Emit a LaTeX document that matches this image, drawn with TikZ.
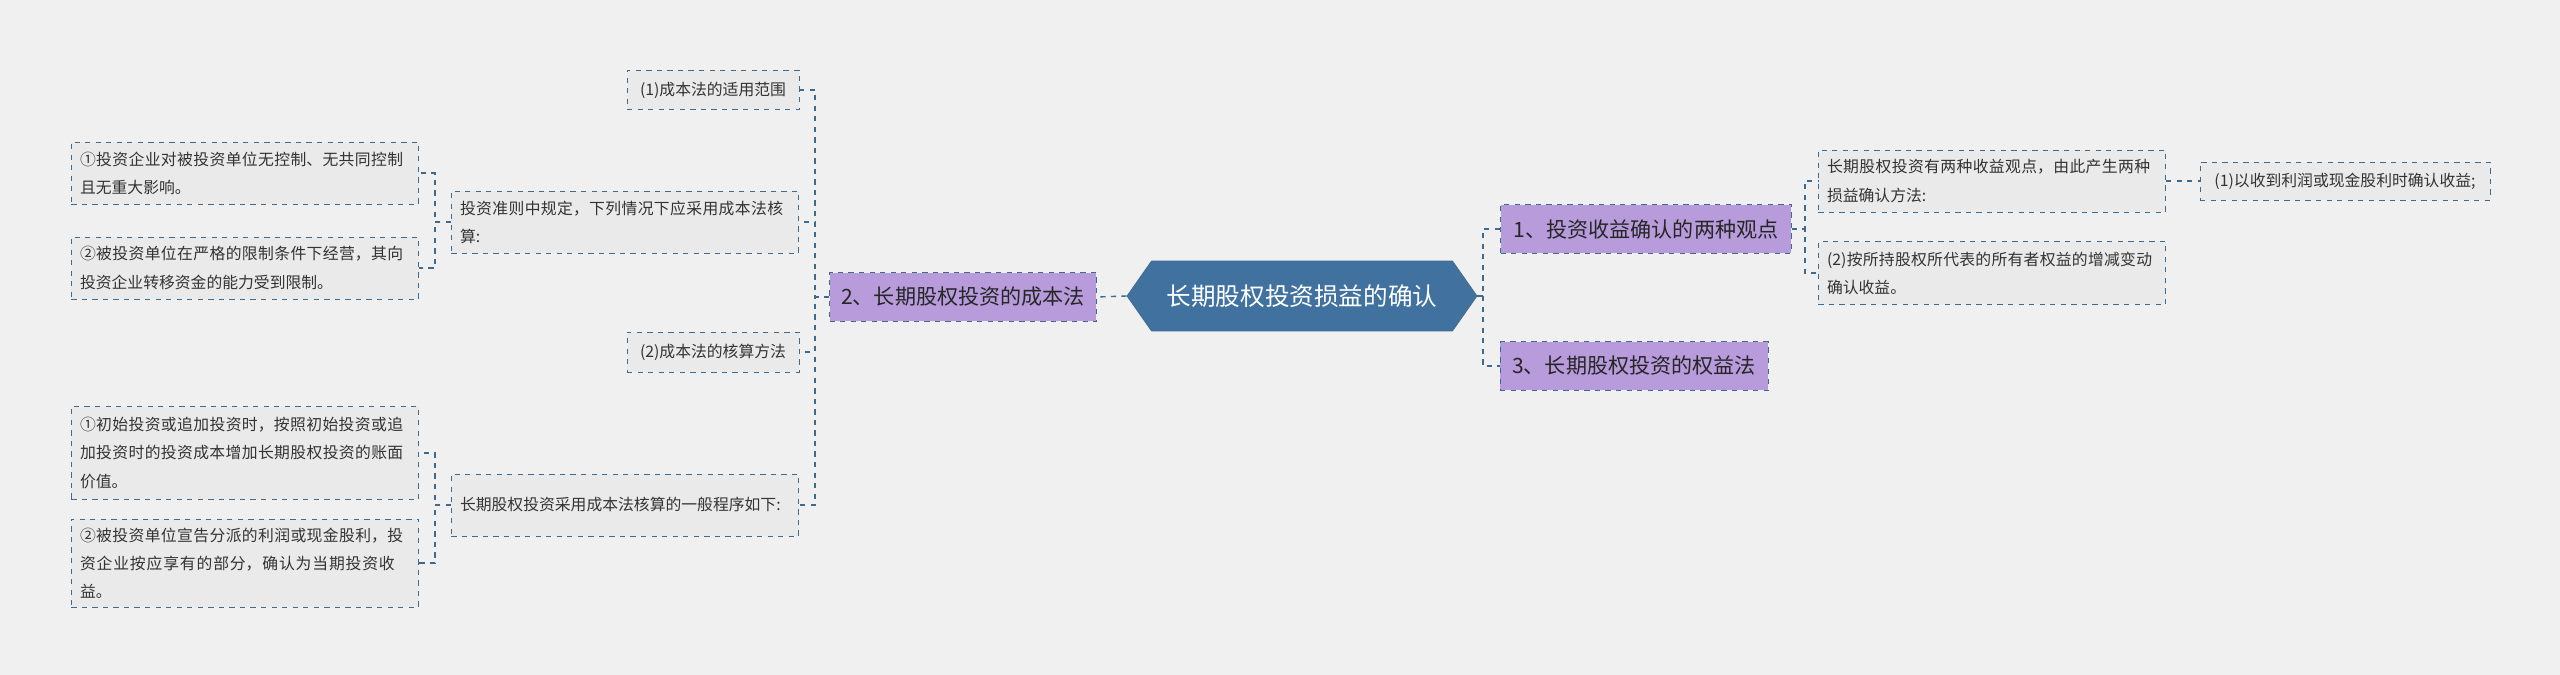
\documentclass[tikz,border=0pt]{standalone}
\usepackage{fontspec}
\setmainfont{Noto Sans CJK SC}
\XeTeXlinebreaklocale "zh"
\XeTeXlinebreakskip=0pt plus 1pt
\usetikzlibrary{shapes.symbols}
\definecolor{bgc}{HTML}{F0F0F0}
\definecolor{rootc}{HTML}{41729F}
\definecolor{linec}{HTML}{3E6A8E}
\definecolor{purp}{HTML}{B79BDB}
\definecolor{leafc}{HTML}{EAEAEA}
\tikzset{
  rootbox/.style={signal, signal to=east and west, signal pointer angle=110, fill=rootc, draw=linec,
    text=white, font=\fontsize{14}{16}\selectfont, minimum width=7cm, minimum height=1.4cm, inner xsep=2pt},
  topicbox/.style={fill=purp, draw=linec, dashed, font=\fontsize{12}{14}\selectfont, text=black!85,
    minimum height=0.98cm, inner xsep=6pt},
  leafbox/.style={fill=leafc, draw=linec, dashed, font=\fontsize{9}{16}\selectfont, text=black!80,
    align=left, inner sep=5pt},
  link/.style={draw=linec, dashed, thick},
}
\begin{document}
\begin{tikzpicture}[x=0.02cm,y=-0.02cm]
\fill[bgc] (0,0) rectangle (2560,675);
\useasboundingbox (0,0) rectangle (2560,675);
% root and main topics
\node[rootbox] (root) at (1302,296) {长期股权投资损益的确认};
\node[topicbox, minimum width=5.34cm] (cost) at (963,297) {2、长期股权投资的成本法};
\node[topicbox, minimum width=5.82cm] (views) at (1646,229) {1、投资收益确认的两种观点};
\node[topicbox, minimum width=5.36cm] (equity) at (1634,366) {3、长期股权投资的权益法};
% left branch
\node[leafbox, minimum width=3.44cm, minimum height=0.78cm] (scope) at (713,90) {(1)成本法的适用范围};
\node[leafbox, text width=6.6cm, minimum height=1.24cm] (rule) at (625,222) {投资准则中规定，下列情况下应采用成本法核算:};
\node[leafbox, minimum width=3.44cm, minimum height=0.8cm] (method) at (713,352) {(2)成本法的核算方法};
\node[leafbox, text width=6.6cm, minimum height=1.24cm] (proc) at (625,505) {长期股权投资采用成本法核算的一般程序如下:};
\node[leafbox, text width=6.6cm, minimum height=1.24cm] (ruleA) at (245,173) {①投资企业对被投资单位无控制、无共同控制且无重大影响。};
\node[leafbox, text width=6.6cm, minimum height=1.24cm] (ruleB) at (245,268) {②被投资单位在严格的限制条件下经营，其向投资企业转移资金的能力受到限制。};
\node[leafbox, text width=6.6cm, minimum height=1.86cm] (procA) at (245,453) {①初始投资或追加投资时，按照初始投资或追加投资时的投资成本增加长期股权投资的账面价值。};
\node[leafbox, text width=6.6cm, minimum height=1.62cm] (procB) at (245,563) {②被投资单位宣告分派的利润或现金股利，投资企业按应享有的部分，确认为当期投资收益。};
% right branch
\node[leafbox, text width=6.6cm, minimum height=1.24cm] (twoviews) at (1992,181) {长期股权投资有两种收益观点，由此产生两种损益确认方法:};
\node[leafbox, text width=6.6cm, minimum height=1.26cm] (ownerview) at (1992,273) {(2)按所持股权所代表的所有者权益的增减变动确认收益。};
\node[leafbox, minimum width=5.8cm, minimum height=0.76cm] (cashview) at (2345,181) {(1)以收到利润或现金股利时确认收益;};
% connectors
\coordinate (busR) at (1483,296);
\coordinate (busL) at (815,297);
\coordinate (busV) at (1805,229);
\coordinate (busRule) at (435,222);
\coordinate (busProc) at (435,505);
\draw[link] (root.west) -- (cost.east);
\draw[link] (root.east) -- (busR) |- (views.west);
\draw[link] (busR) |- (equity.west);
\foreach \n in {scope,rule,method,proc}
  \draw[link] (cost.west) -- (busL) |- (\n.east);
\foreach \n in {ruleA,ruleB}
  \draw[link] (rule.west) -- (busRule) |- (\n.east);
\foreach \n in {procA,procB}
  \draw[link] (proc.west) -- (busProc) |- (\n.east);
\foreach \n in {twoviews,ownerview}
  \draw[link] (views.east) -- (busV) |- (\n.west);
\draw[link] (twoviews.east) -- (cashview.west);
\end{tikzpicture}
\end{document}
